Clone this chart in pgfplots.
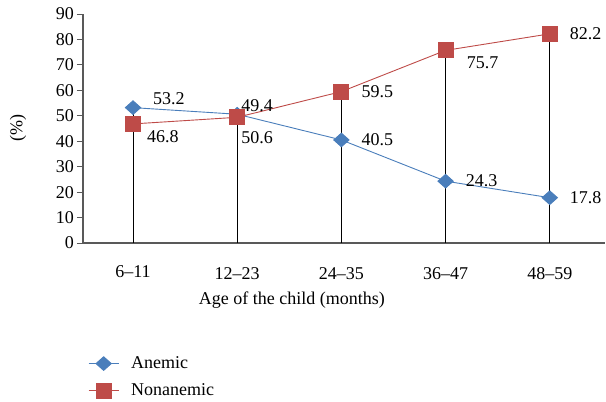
\documentclass[border=0pt]{standalone}
\usepackage{pgfplots}
\pgfplotsset{compat=1.18}
\usepackage{fontspec}
\setmainfont{Liberation Serif}
\usetikzlibrary{calc}
\definecolor{ablue}{HTML}{4A7EBB}
\definecolor{ared}{HTML}{BE4B48}
\definecolor{axgray}{HTML}{595959}
\pgfplotsset{
  lbl/.style n args={2}{draw=none, mark=none, forget plot,
    point meta=explicit symbolic, nodes near coords,
    nodes near coords style={anchor=west, inner sep=0pt, xshift=#1, yshift=#2,
      font=\fontsize{18}{21}\selectfont, text=black}},
}
\begin{document}
\begin{tikzpicture}
\begin{axis}[
  scale only axis, width=522pt, height=229pt,
  xmin=-0.48, xmax=4.53, ymin=0, ymax=90,
  axis x line=bottom, axis y line=left,
  axis line style={-, axgray, line width=1.1pt},
  xtick={0,1,2,3,4},
  xticklabels={\raisebox{5pt}{6--11},12--23,24--35,36--47,48--59},
  ytick={0,10,...,90},
  major x tick style={draw=none},
  tick align=outside, major tick length=6pt,
  y tick style={axgray, line width=0.8pt},
  font=\fontsize{18}{21}\selectfont,
  /pgf/number format/assume math mode=true,
  xticklabel style={anchor=center, yshift=-25pt},
  yticklabel style={anchor=east, inner sep=0pt, xshift=-3pt},
  xlabel={Age of the child (months)},
  xlabel style={at={(axis description cs:0.4,-0.249)}, anchor=center},
  ylabel={(\%)},
  ylabel style={at={(axis description cs:-0.1245,0.5)}, anchor=center},
  clip=false,
  legend style={at={(axis description cs:0.0096,-0.496)}, anchor=north west,
    draw=none, fill=none, inner sep=0pt, row sep=12.6pt, column sep=12pt,
    nodes={inner sep=0pt}, cells={anchor=west},
    font=\fontsize{18}{21}\selectfont},
  legend image code/.code={\draw[mark repeat=2, mark phase=2] plot coordinates {(0pt,0pt)(15pt,0pt)(30pt,0pt)};},
]
\coordinate (bl) at (rel axis cs:0,0);
\coordinate (tr) at (rel axis cs:1,1);
\addplot[ycomb, black, line width=0.9pt, mark=none, forget plot]
  coordinates {(0,53.2)(1,50.6)(2,59.5)(3,75.7)(4,82.2)};
\addplot[ablue, line width=0.9pt, mark=diamond*, mark size=6.8pt,
  mark options={xscale=1.5, fill=ablue, draw=ablue}]
  coordinates {(0,53.2)(1,50.6)(2,40.5)(3,24.3)(4,17.8)};
\addlegendentry{Anemic}
\addplot[ared, line width=0.9pt, mark=square*, mark size=7.5pt,
  mark options={fill=ared, draw=ared}]
  coordinates {(0,46.8)(1,49.4)(2,59.5)(3,75.7)(4,82.2)};
\addlegendentry{Nonanemic}
% labels
\addplot[lbl={20pt}{0pt}] coordinates {(2,59.5)[59.5] (2,40.5)[40.5] (3,24.3)[24.3] (4,82.2)[82.2] (4,17.8)[17.8]};
\addplot[lbl={20pt}{8.6pt}] coordinates {(0,53.2)[53.2]};
\addplot[lbl={14pt}{-13pt}] coordinates {(0,46.8)[46.8]};
\addplot[lbl={4pt}{12pt}] coordinates {(1,49.4)[49.4]};
\addplot[lbl={4pt}{-23pt}] coordinates {(1,50.6)[50.6]};
\addplot[lbl={21pt}{-12pt}] coordinates {(3,75.7)[75.7]};
\end{axis}
\pgfresetboundingbox
\path[use as bounding box] ($(bl)+(-83pt,-159pt)$) rectangle ($(tr)+(1pt,14pt)$);
\end{tikzpicture}
\end{document}
